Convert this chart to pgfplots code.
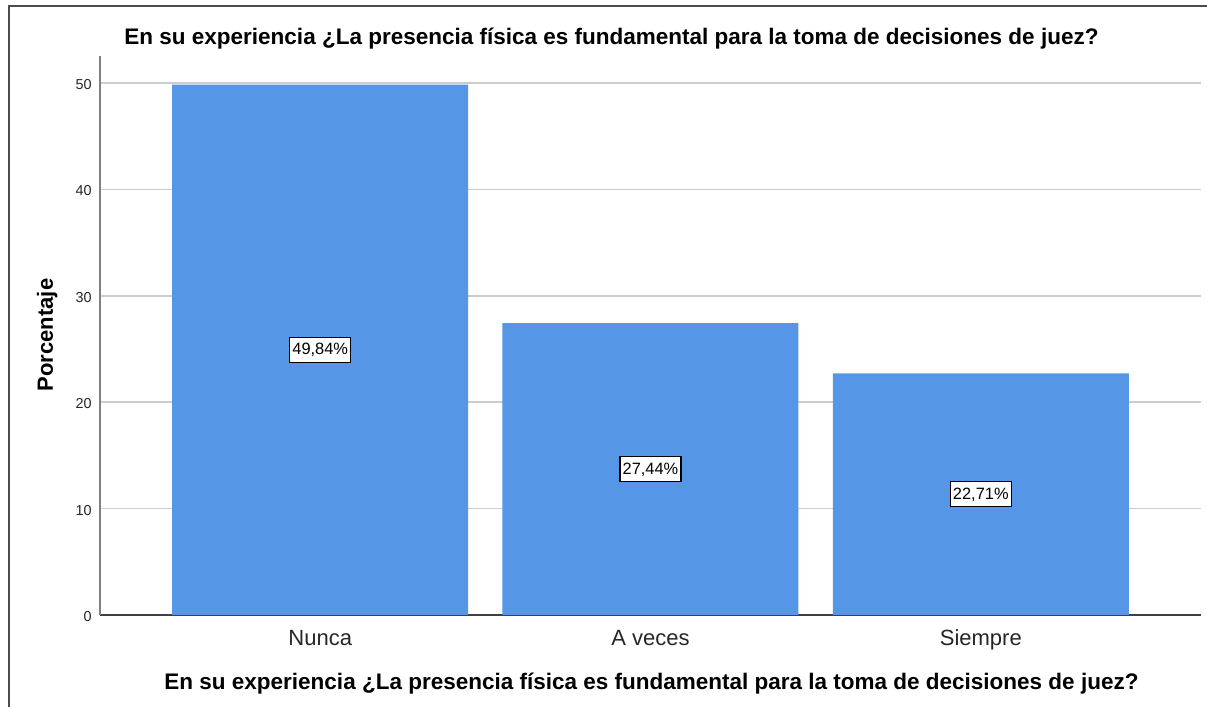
\documentclass[border=0pt]{standalone}
\usepackage{pgfplots}
\pgfplotsset{compat=1.18}
\usepackage{fontspec}
\setmainfont{Liberation Sans}
\definecolor{barblue}{RGB}{85,150,230}
\definecolor{gridgray}{RGB}{205,205,205}
\begin{document}
\begin{tikzpicture}
\useasboundingbox (-50pt,-46pt) rectangle (553.5pt,307.5pt);
\draw[black!70, line width=0.7pt] (-45.5pt,-46pt) -- (-45.5pt,304.5pt) -- (553.5pt,304.5pt);
\begin{axis}[
  at={(0,0)}, anchor=south west,
  scale only axis, width=550.5pt, height=279.5pt,
  xmin=-0.6667, xmax=2.6667, ymin=0, ymax=52.54,
  axis x line*=bottom, axis y line*=left,
  x axis line style={black!75, line width=0.6pt, -},
  y axis line style={black!50, line width=0.6pt, -},
  xtick={0,1,2}, xticklabels={Nunca, A veces, Siempre},
  ytick={0,10,20,30,40,50},
  major tick length=0pt,
  ymajorgrids, grid style={gridgray, line width=0.8pt},
  /pgf/number format/assume math mode=true,
  xticklabel style={font=\fontsize{11}{13}\selectfont, anchor=base, yshift=-15.5pt, text=black!85},
  yticklabel style={font=\fontsize{7.2}{8}\selectfont, anchor=east, inner sep=0pt, xshift=-4pt, yshift=-0.8pt, text=black!85},
]
\addplot[ybar, bar width=148pt, fill=barblue, draw=none] coordinates {(0,49.84) (1,27.44) (2,22.71)};
\addplot[draw=none, nodes near coords, point meta=explicit symbolic,
  nodes near coords style={anchor=center, fill=white, draw=black, line width=0.6pt,
    inner xsep=1.3pt, inner ysep=2.9pt, text height=5.9pt, text depth=0.9pt,
    font=\fontsize{8.2}{9}\selectfont}]
  coordinates {(0,24.92) [49,84\%] (1,13.72) [27,44\%] (2,11.36) [22,71\%]};
\end{axis}
\node[anchor=base, font=\bfseries\fontsize{11.25}{13}\selectfont] at (255.75pt,285pt) {En su experiencia ¿La presencia física es fundamental para la toma de decisiones de juez?};
\node[anchor=base, font=\bfseries\fontsize{11.25}{13}\selectfont] at (275.75pt,-37.5pt) {En su experiencia ¿La presencia física es fundamental para la toma de decisiones de juez?};
\node[anchor=base, rotate=90, font=\bfseries\fontsize{11}{13}\selectfont] at (-23.5pt,140pt) {Porcentaje};
\end{tikzpicture}
\end{document}
